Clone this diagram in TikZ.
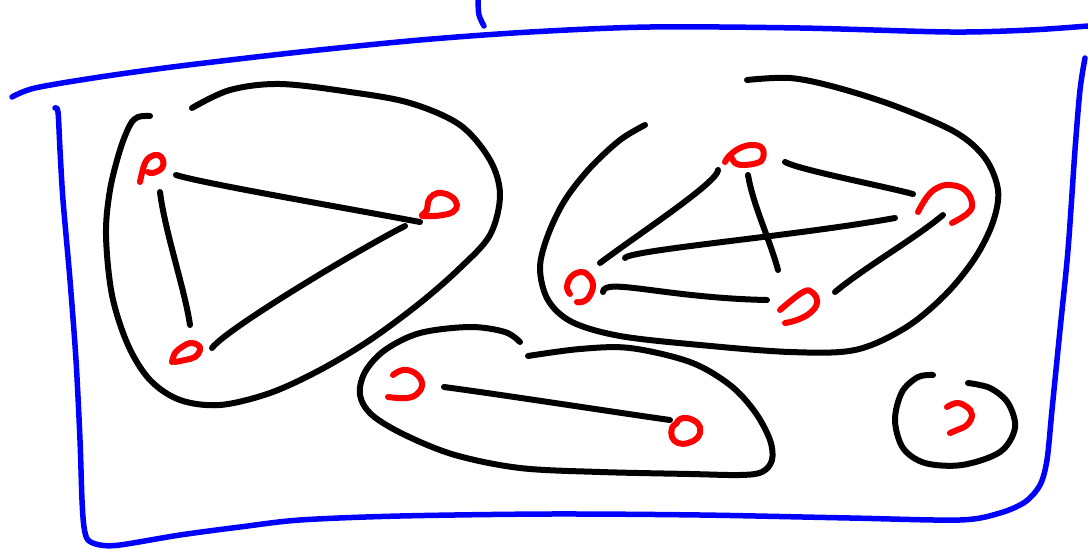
\documentclass[tikz,border=0pt]{standalone}
\usetikzlibrary{calc}
\begin{document}
\begin{tikzpicture}[x=1pt,y=-1pt, line cap=round, line join=round,
 frame/.style={draw={rgb,255:red,0;green,0;blue,255}, line width=5.5pt},
 blob/.style={draw=black, line width=6pt},
 edge/.style={draw=black, line width=6pt},
 redm/.style={draw={rgb,255:red,255;green,0;blue,0}, line width=6pt},
 vtx/.style={inner sep=0pt, minimum size=0pt}]
\useasboundingbox (0,0) rectangle (1088,549);

% blue frame
\draw[frame] plot[smooth, tension=0.5] coordinates {(12,97) (35,88) (100,77) (180,66) (300,52) (420,40) (530,32) (650,27) (800,28) (950,32) (1030,30) (1088,26)};
\draw[frame] plot[smooth, tension=0.5] coordinates {(1085,58) (1080,90) (1075,150) (1068,250) (1060,330) (1052,410) (1047,460) (1040,485) (1025,502) (1000,513) (960,520) (850,518) (700,515) (550,514) (400,516) (300,520) (240,527) (180,535) (120,545) (100,545) (88,540) (84,527) (82,500) (80,440) (76,360) (70,280) (63,200) (60,150) (58,112) (55,108)};
\draw[frame] plot[smooth] coordinates {(478,0) (479,15) (484,26)};

% component blobs
\draw[blob] plot[smooth, tension=0.55] coordinates {(192,108) (230,90) (280,84) (350,92) (410,103) (460,125) (490,160) (500,195) (490,235) (460,268) (420,303) (370,340) (320,370) (270,393) (220,405) (180,400) (150,380) (128,345) (112,295) (106,235) (110,190) (120,150) (130,125) (138,117) (150,116)};
\draw[blob] plot[smooth, tension=0.55] coordinates {(645,125) (620,140) (590,168) (565,200) (548,235) (540,268) (548,300) (572,322) (620,336) (700,345) (790,352) (855,350) (905,328) (945,295) (975,258) (993,222) (998,190) (985,158) (955,132) (895,106) (835,87) (790,78) (747,80)};
\draw[blob] plot[smooth, tension=0.55] coordinates {(528,356) (580,349) (630,348) (690,362) (730,385) (755,412) (770,440) (772,460) (762,472) (740,475) (690,474) (600,472) (520,468) (455,455) (405,435) (372,415) (360,395) (365,372) (385,350) (420,333) (470,327) (505,332) (520,342)};
\draw[blob] plot[smooth, tension=0.55] coordinates {(968,383) (990,388) (1008,403) (1015,428) (1000,452) (962,465) (925,463) (903,448) (895,420) (902,392) (918,377) (933,375)};

% vertices
\node[vtx] (A) at (153,170) {};
\node[vtx] (B) at (437,206) {};
\node[vtx] (C) at (185,352) {};
\node[vtx] (D) at (745,157) {};
\node[vtx] (E) at (945,205) {};
\node[vtx] (F) at (580,287) {};
\node[vtx] (G) at (800,307) {};
\node[vtx] (H) at (405,385) {};
\node[vtx] (I) at (685,430) {};
\node[vtx] (J) at (960,418) {};

% red vertex marks
\draw[redm, shift={(A)}] plot[smooth, tension=0.7] coordinates {(-13,12) (-11,3) (-8,-7) (-3,-13) (5,-15) (10,-10) (9,-2) (0,3) (-5,2)};
\draw[redm, shift={(B)}] plot[smooth, tension=0.7] coordinates {(-15,9) (-10,4) (-9,-4) (-4,-11) (5,-13) (15,-9) (20,-1) (16,6) (6,9) (-4,10) (-15,10)};
\draw[redm, shift={(C)}] plot[smooth, tension=0.7] coordinates {(-13,10) (-10,1) (-3,-5) (5,-9) (13,-7) (15,-2) (10,5) (0,8) (-10,10)};
\draw[redm, shift={(D)}] plot[smooth, tension=0.7] coordinates {(-20,5) (-15,-2) (-5,-9) (7,-12) (17,-9) (18,1) (12,6) (-2,8) (-10,6) (-13,1)};
\draw[redm, shift={(E)}] plot[smooth, tension=0.7] coordinates {(-27,7) (-18,-8) (-8,-17) (5,-20) (20,-15) (27,-2) (23,8) (7,18)};
\draw[redm, shift={(F)}] plot[smooth, tension=0.7] coordinates {(-10,7) (-13,0) (-9,-10) (0,-15) (8,-12) (13,-2) (9,10) (2,15) (-3,15)};
\draw[redm, shift={(G)}] plot[smooth, tension=0.7] coordinates {(-20,3) (3,-15) (13,-14) (17,-4) (10,6) (-3,13) (-15,16)};
\draw[redm, shift={(H)}] plot[smooth, tension=0.7] coordinates {(-12,-10) (-2,-15) (10,-12) (17,-2) (13,8) (2,13) (-17,12)};
\draw[redm, shift={(I)}] plot[smooth, tension=0.7] coordinates {(-8,-7) (-13,-2) (-13,7) (-7,13) (3,13) (13,7) (15,-3) (8,-10) (-2,-12) (-8,-8)};
\draw[redm, shift={(J)}] plot[smooth, tension=0.7] coordinates {(-13,-11) (-3,-15) (7,-11) (12,-3) (7,7) (-3,12) (-10,15)};

% edges
\draw[edge] ($(A)+(23,5)$) .. controls +(25,8) and +(-80,-15) .. ($(B)+(-17,16)$);
\draw[edge] ($(A)+(7,22)$) .. controls +(5,40) and +(-5,-35) .. ($(C)+(5,-27)$);
\draw[edge] ($(B)+(-32,20)$) .. controls +(-40,20) and +(15,-20) .. ($(C)+(27,-4)$);
\draw[edge] ($(D)+(40,5)$) .. controls +(15,8) and +(-30,-8) .. ($(E)+(-32,-11)$);
\draw[edge] ($(D)+(-27,13)$) .. controls +(0,12) and +(40,-30) .. ($(F)+(20,-24)$);
\draw[edge] ($(D)+(3,18)$) .. controls +(5,30) and +(-8,-30) .. ($(G)+(-22,-37)$);
\draw[edge] ($(E)+(-50,13)$) .. controls +(-100,18) and +(5,-8) .. ($(F)+(45,-29)$);
\draw[edge] ($(E)+(-2,10)$) .. controls +(-30,25) and +(30,-25) .. ($(G)+(35,-15)$);
\draw[edge] ($(F)+(23,5)$) .. controls +(0,-15) and +(-100,-2) .. ($(G)+(-33,-7)$);
\draw[edge] ($(H)+(39,2)$) .. controls +(60,8) and +(-50,-7) .. ($(I)+(-15,-10)$);
\end{tikzpicture}
\end{document}
